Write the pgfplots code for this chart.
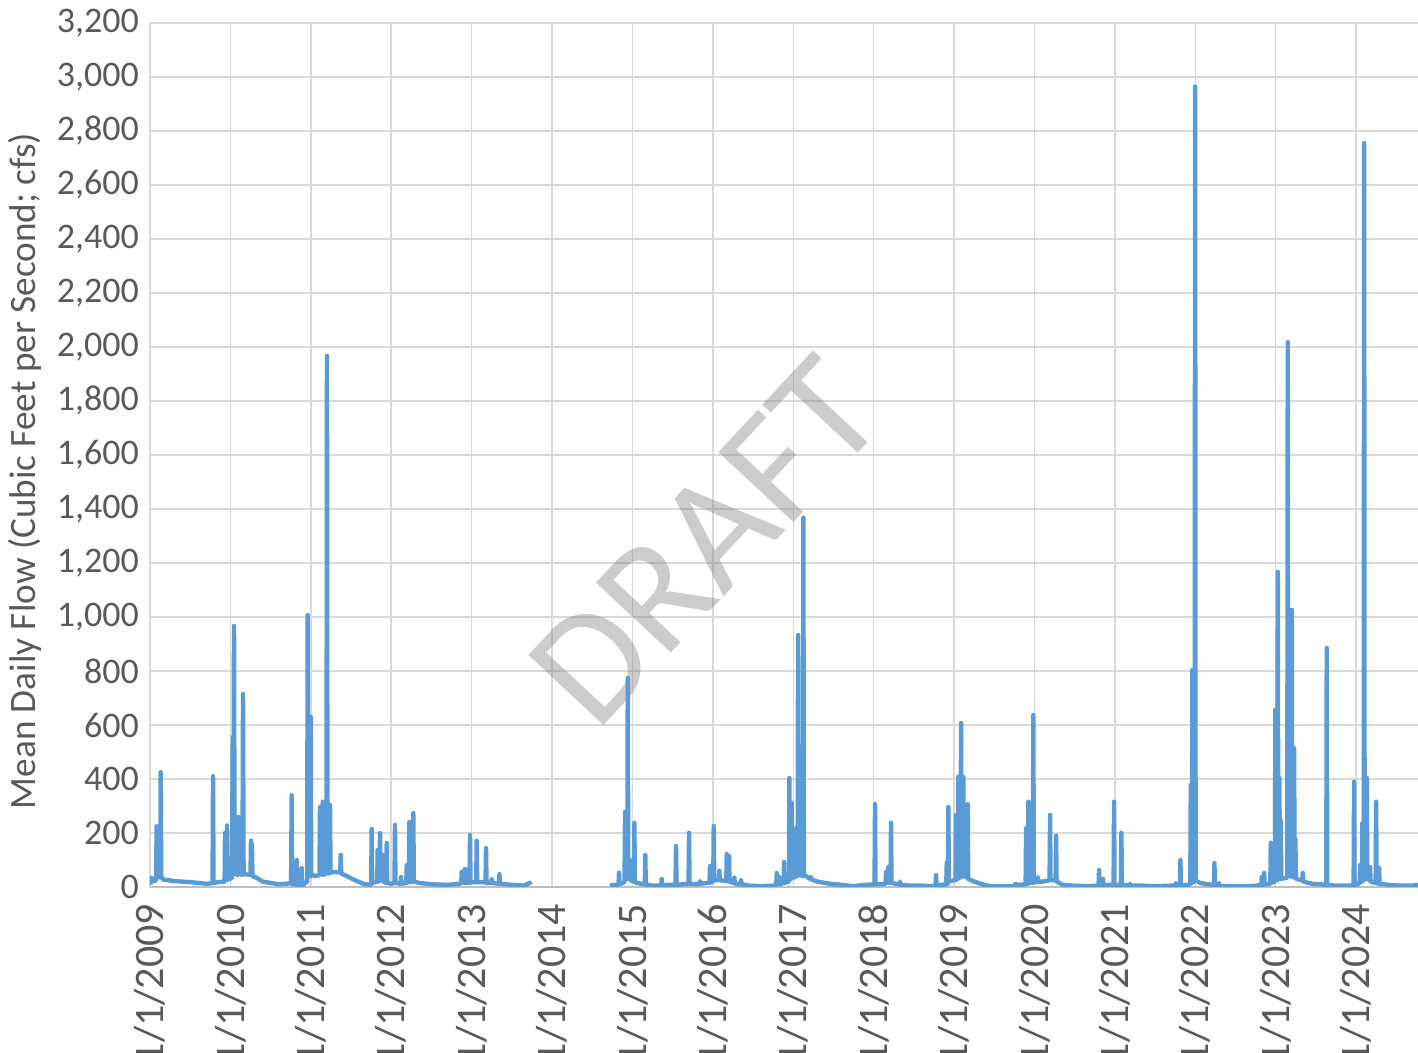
\documentclass[border=0pt]{standalone}
\usepackage{pgfplots}
\pgfplotsset{compat=1.18}
\usepackage{fontspec}
\setmainfont{Carlito}
\definecolor{flow}{HTML}{5B9BD5}
\definecolor{gridc}{HTML}{D9D9D9}
\definecolor{axc}{HTML}{BFBFBF}
\definecolor{txt}{HTML}{595959}
\begin{document}
\begin{tikzpicture}
\begin{axis}[
  name=ax, at={(0,0)}, anchor=south west,
  scale only axis, width=634pt, height=432pt,
  xmin=2009, xmax=2024.77, ymin=0, ymax=3200,
  xtick={2009,2010,2011,2012,2013,2014,2015,2016,2017,2018,2019,2020,2021,2022,2023,2024},
  xticklabels={1/1/2009,1/1/2010,1/1/2011,1/1/2012,1/1/2013,1/1/2014,1/1/2015,1/1/2016,1/1/2017,1/1/2018,1/1/2019,1/1/2020,1/1/2021,1/1/2022,1/1/2023,1/1/2024},
  ytick={0,200,...,3200},
  major tick length=0pt,
  grid=major,
  major grid style={gridc, line width=0.75pt},
  axis x line*=bottom, axis y line*=left,
  x axis line style={axc, line width=1pt, -},
  y axis line style={draw=none},
  /pgf/number format/.cd, 1000 sep={,}, assume math mode=true,
  /pgfplots/.cd,
  yticklabel style={font=\fontsize{18}{20}\selectfont, text=txt, xshift=-2pt},
  xticklabel style={font=\fontsize{21}{23}\selectfont, text=txt, rotate=90, anchor=east, xshift=-5pt, yshift=0pt},
  ylabel={Mean Daily Flow (Cubic Feet per Second; cfs)},
  ylabel style={font=\fontsize{18.6}{20}\selectfont, text=txt, at={(axis description cs:-0.0986,0.4815)}, anchor=center, rotate=0},
  title={Station SC-1 Mean Daily Flow, Calendar Years 2009 to 2024},
  title style={font=\fontsize{18}{20}\selectfont, text=txt, at={(axis description cs:0.5,1)}, anchor=base, yshift=8pt},
  unbounded coords=jump,
  clip=true,
]
\node[rotate=47, text=black!50, opacity=0.4, font=\fontsize{80}{90}\selectfont] at (axis cs:2015.91,1280) {DRAFT};
\addplot[flow, line width=2.2pt, line join=round, line cap=round] coordinates {
(2009.000,30) (2009.010,15) (2009.020,35) (2009.030,20) (2009.075,25) (2009.083,225) (2009.090,40) (2009.128,35) (2009.133,425) (2009.140,40) (2009.160,28) (2009.300,22) (2009.500,18) (2009.700,12)
(2009.778,14) (2009.784,410) (2009.790,15) (2009.850,18)
(2009.928,20) (2009.933,200) (2009.940,25) (2009.952,25) (2009.958,228) (2009.964,28) (2010.000,30)
(2010.020,35) (2010.029,556) (2010.037,60) (2010.045,967) (2010.052,50) (2010.090,45) (2010.095,260) (2010.100,50) (2010.150,45) (2010.157,715) (2010.164,48) (2010.250,45) (2010.256,172) (2010.262,45) (2010.268,160) (2010.274,40) (2010.320,35) (2010.400,20) (2010.500,15) (2010.600,10) (2010.700,12)
(2010.755,15) (2010.762,340) (2010.768,10) (2010.800,12) (2010.825,100) (2010.830,5) (2010.870,12) (2010.887,70) (2010.893,5) (2010.930,15) (2010.955,20) (2010.961,1007) (2010.967,40) (2010.993,40) (2010.999,630) (2011.005,50) (2011.020,45) (2011.050,40)
(2011.108,45) (2011.114,296) (2011.120,50) (2011.142,45) (2011.148,316) (2011.154,45) (2011.195,50) (2011.201,1967) (2011.207,55) (2011.233,50) (2011.239,304) (2011.245,55) (2011.300,55) (2011.366,55) (2011.372,119) (2011.378,50) (2011.450,40) (2011.550,25) (2011.650,12) (2011.745,8)
(2011.751,10) (2011.757,215) (2011.763,15) (2011.826,20) (2011.832,137) (2011.838,20) (2011.855,22) (2011.861,200) (2011.867,25) (2011.888,25) (2011.894,119) (2011.900,20) (2011.938,15) (2011.944,163) (2011.950,15) (2012.000,12) (2012.041,15) (2012.047,230) (2012.053,15) (2012.116,12) (2012.122,37) (2012.128,12) (2012.187,15) (2012.193,81) (2012.199,15) (2012.219,20) (2012.225,241) (2012.231,20) (2012.269,20) (2012.275,274) (2012.281,20) (2012.350,15) (2012.500,10) (2012.700,8) (2012.850,12)
(2012.871,15) (2012.877,57) (2012.883,15) (2012.912,15) (2012.918,67) (2012.924,15) (2012.974,15) (2012.980,193) (2012.986,18) (2013.057,18) (2013.063,171) (2013.069,18) (2013.173,18) (2013.179,144) (2013.185,15) (2013.244,15) (2013.250,30) (2013.256,15) (2013.339,12) (2013.345,48) (2013.351,12) (2013.500,8) (2013.650,5) (2013.700,12) (2013.726,15)
(2014.000,nan)
(2014.743,8) (2014.780,5) (2014.827,10) (2014.833,53) (2014.839,10) (2014.880,15) (2014.902,20) (2014.908,279) (2014.914,30) (2014.936,30) (2014.942,774) (2014.948,35) (2014.964,30) (2014.970,100) (2014.976,25) (2015.018,20) (2015.024,238) (2015.030,18) (2015.100,12) (2015.154,10) (2015.160,119) (2015.166,8) (2015.250,5) (2015.358,5) (2015.364,30) (2015.370,5) (2015.450,8) (2015.536,8) (2015.542,152) (2015.548,8) (2015.620,10) (2015.698,12) (2015.704,201) (2015.710,12) (2015.800,10) (2015.835,12) (2015.841,22) (2015.847,12) (2015.920,15) (2015.959,15) (2015.965,78) (2015.971,20) (2016.005,20) (2016.011,226) (2016.017,25) (2016.075,25) (2016.081,60) (2016.087,25) (2016.167,22) (2016.173,122) (2016.179,22) (2016.195,22) (2016.201,115) (2016.207,20) (2016.261,15) (2016.267,35) (2016.273,12) (2016.345,10) (2016.351,26) (2016.357,10) (2016.450,5) (2016.600,3) (2016.750,5)
(2016.789,8) (2016.795,52) (2016.801,10) (2016.817,10) (2016.823,38) (2016.829,10) (2016.880,15) (2016.886,93) (2016.892,15) (2016.946,20) (2016.952,404) (2016.958,30) (2016.975,30) (2016.981,311) (2016.987,35) (2017.016,35) (2017.022,215) (2017.028,40) (2017.054,40) (2017.060,933) (2017.066,45) (2017.079,45) (2017.085,211) (2017.091,45) (2017.120,40) (2017.126,1368) (2017.132,45) (2017.212,30) (2017.218,37) (2017.224,28) (2017.300,20) (2017.450,12) (2017.600,8) (2017.750,3) (2017.800,5)
(2017.900,8) (2018.011,10) (2018.017,307) (2018.023,10) (2018.100,10) (2018.148,12) (2018.154,56) (2018.160,15) (2018.177,15) (2018.183,74) (2018.189,15) (2018.210,15) (2018.216,238) (2018.222,15) (2018.300,10) (2018.322,10) (2018.328,20) (2018.334,8) (2018.450,5) (2018.600,5) (2018.750,3)
(2018.770,5) (2018.776,44) (2018.782,5) (2018.850,8) (2018.903,10) (2018.909,89) (2018.915,12) (2018.923,12) (2018.929,296) (2018.935,20) (2019.000,25) (2019.019,25) (2019.025,267) (2019.031,30) (2019.047,30) (2019.053,408) (2019.059,35) (2019.081,35) (2019.087,607) (2019.093,40) (2019.110,40) (2019.116,407) (2019.122,40) (2019.164,35) (2019.170,307) (2019.176,30) (2019.250,20) (2019.350,10) (2019.450,3) (2019.600,2) (2019.750,3)
(2019.759,11) (2019.800,8) (2019.890,10) (2019.896,218) (2019.902,12) (2019.918,12) (2019.924,316) (2019.930,15) (2019.980,15) (2019.986,637) (2019.992,18) (2020.035,18) (2020.041,37) (2020.047,20) (2020.100,20) (2020.188,25) (2020.194,267) (2020.200,25) (2020.263,25) (2020.269,190) (2020.275,20) (2020.350,8) (2020.500,5) (2020.650,3) (2020.797,5) (2020.803,63) (2020.809,5) (2020.847,5) (2020.853,30) (2020.859,5) (2020.950,8) (2020.984,8) (2020.990,316) (2020.996,8) (2021.075,8) (2021.081,201) (2021.087,8) (2021.183,5) (2021.189,12) (2021.195,5) (2021.350,5) (2021.500,3) (2021.700,5)
(2021.752,5) (2021.758,15) (2021.764,5) (2021.809,5) (2021.815,100) (2021.821,5) (2021.900,8) (2021.938,10) (2021.944,378) (2021.950,15) (2021.958,15) (2021.964,804) (2021.970,20) (2021.992,20) (2021.998,2965) (2022.004,25) (2022.060,15) (2022.150,10) (2022.232,8) (2022.238,89) (2022.244,8) (2022.290,5) (2022.296,15) (2022.302,3) (2022.450,3) (2022.600,2) (2022.750,5)
(2022.821,8) (2022.827,37) (2022.833,8) (2022.850,8) (2022.856,52) (2022.862,10) (2022.933,12) (2022.939,164) (2022.945,15) (2022.990,20) (2022.996,656) (2023.002,25) (2023.020,25) (2023.026,1167) (2023.032,30) (2023.040,30) (2023.046,404) (2023.052,30) (2023.057,30) (2023.063,248) (2023.069,30) (2023.144,35) (2023.150,2018) (2023.156,40) (2023.194,40) (2023.200,1026) (2023.206,40) (2023.223,35) (2023.229,515) (2023.235,35) (2023.239,35) (2023.245,178) (2023.251,30) (2023.331,25) (2023.337,52) (2023.343,20) (2023.450,12) (2023.550,10) (2023.629,8) (2023.635,885) (2023.641,8) (2023.750,5) (2023.900,5)
(2023.969,5) (2023.975,390) (2023.981,8) (2024.020,10) (2024.044,15) (2024.050,81) (2024.056,20) (2024.072,20) (2024.078,237) (2024.084,25) (2024.094,25) (2024.100,2755) (2024.106,30) (2024.127,30) (2024.133,404) (2024.139,30) (2024.168,25) (2024.174,74) (2024.180,20) (2024.243,15) (2024.249,316) (2024.255,15) (2024.280,12) (2024.286,70) (2024.292,12) (2024.400,8) (2024.550,5) (2024.700,5) (2024.755,8)
};
\end{axis}
\pgfresetboundingbox
\path[use as bounding box] (-75pt,-83pt) rectangle (634pt,443.5pt);
\end{tikzpicture}
\end{document}
